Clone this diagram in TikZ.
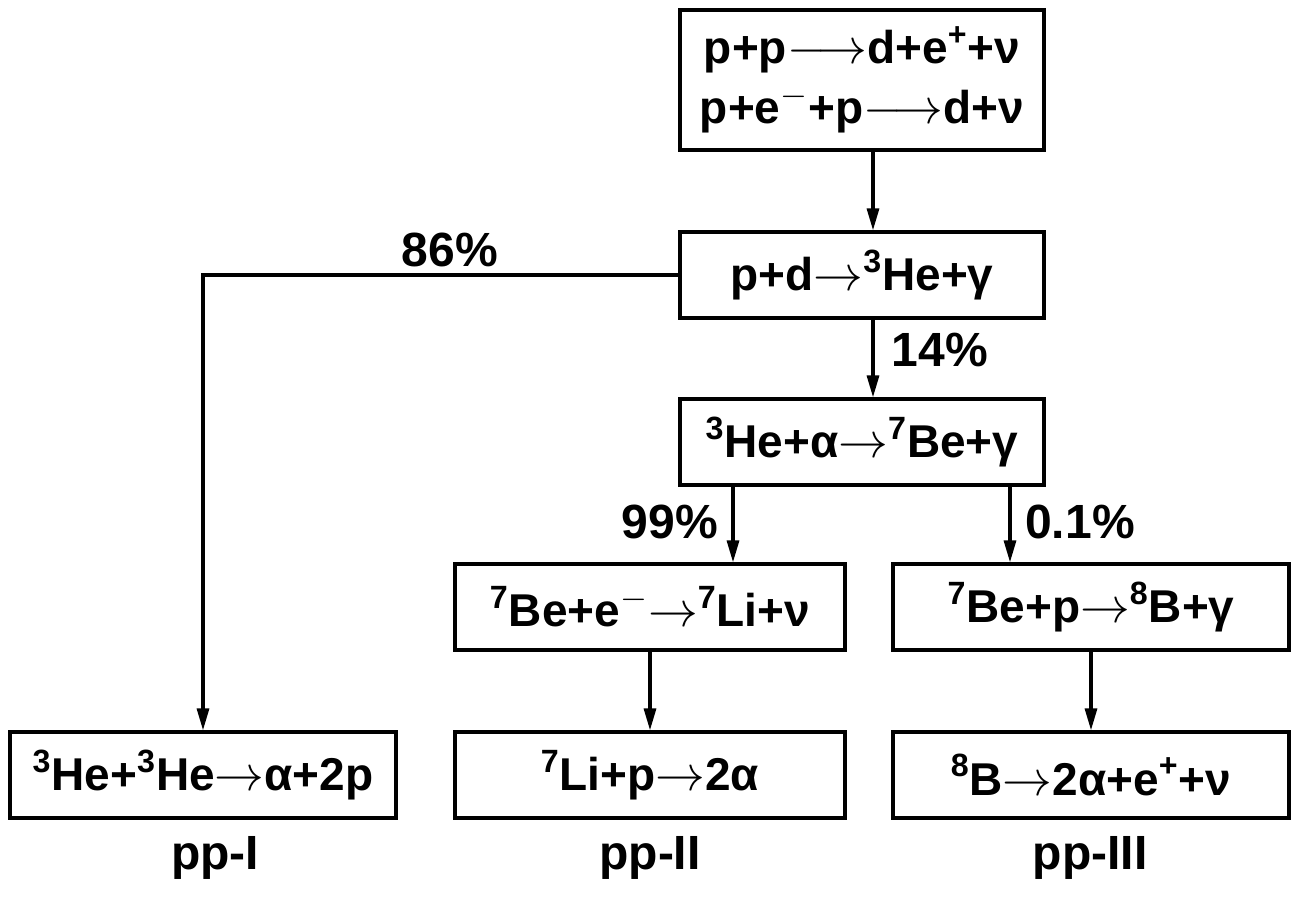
\documentclass[tikz,border=0pt]{standalone}
\usepackage{fontspec}
\setmainfont{Liberation Sans}
\usetikzlibrary{arrows.meta}
\tikzset{
  rxn/.style={draw,line width=1.6pt,minimum height=43pt,inner sep=1pt,font=\fontsize{23}{29}\selectfont\bfseries},
  arr/.style={line width=1.6pt,-{Triangle[length=11pt,width=6pt]}},
  pct/.style={font=\fontsize{24}{28}\selectfont\bfseries},
}
\newcommand{\iso}[2]{\textsuperscript{#1}#2}
\newcommand{\ra}{$\mathord{\rightarrow}$}
\newcommand{\lra}{$\mathord{\longrightarrow}$}
\begin{document}
\begin{tikzpicture}[x=0.5pt,y=-0.5pt]
\useasboundingbox (0,0) rectangle (1298,897);
\fill[white] (0,0) rectangle (1298,897);
% boxes
\node[rxn,minimum width=182pt,minimum height=70pt,align=center] (pp) at (862,80)
  {p+p\lra d+e\textsuperscript{+}+ν\\[1pt] p+e\textsuperscript{$-$}+p\lra d+ν};
\node[rxn,minimum width=182pt] (pd) at (862,275) {p+d\ra\iso{3}{He}+γ};
\node[rxn,minimum width=182pt] (hea) at (862,442) {\iso{3}{He}+α\ra\iso{7}{Be}+γ};
\node[rxn,minimum width=195pt] (bee) at (650,607) {\iso{7}{Be}+e\textsuperscript{$-$}\ra\iso{7}{Li}+ν};
\node[rxn,minimum width=198pt] (bep) at (1091,607) {\iso{7}{Be}+p\ra\iso{8}{B}+γ};
\node[rxn,minimum width=193pt] (hehe) at (203,775) {\iso{3}{He}+\iso{3}{He}\ra α+2p};
\node[rxn,minimum width=195pt] (lip) at (650,775) {\iso{7}{Li}+p\ra 2α};
\node[rxn,minimum width=198pt] (bb) at (1091,775) {\iso{8}{B}\ra 2α+e\textsuperscript{+}+ν};
% branch labels
\node[pct] (l86) at (450,250) {86\%};
\node[pct] (l14) at (940,350) {14\%};
\node[pct] (l99) at (670,522) {99\%};
\node[pct] (l01) at (1080,522) {0.1\%};
\node[pct] (c1) at (215,858) {pp-I};
\node[pct] (c2) at (650,858) {pp-II};
\node[pct] (c3) at (1090,858) {pp-III};
% connectors
\draw[arr] (pp.south -| 873,0) -- (pd.north -| 873,0);
\draw[arr] (pd.south -| 873,0) -- (hea.north -| 873,0);
\draw[arr] (pd.west) -| (hehe.north);
\draw[arr] (hea.south -| 733,0) -- (bee.north -| 733,0);
\draw[arr] (hea.south -| 1010,0) -- (bep.north -| 1010,0);
\draw[arr] (bee) -- (lip);
\draw[arr] (bep) -- (bb);
\end{tikzpicture}
\end{document}
